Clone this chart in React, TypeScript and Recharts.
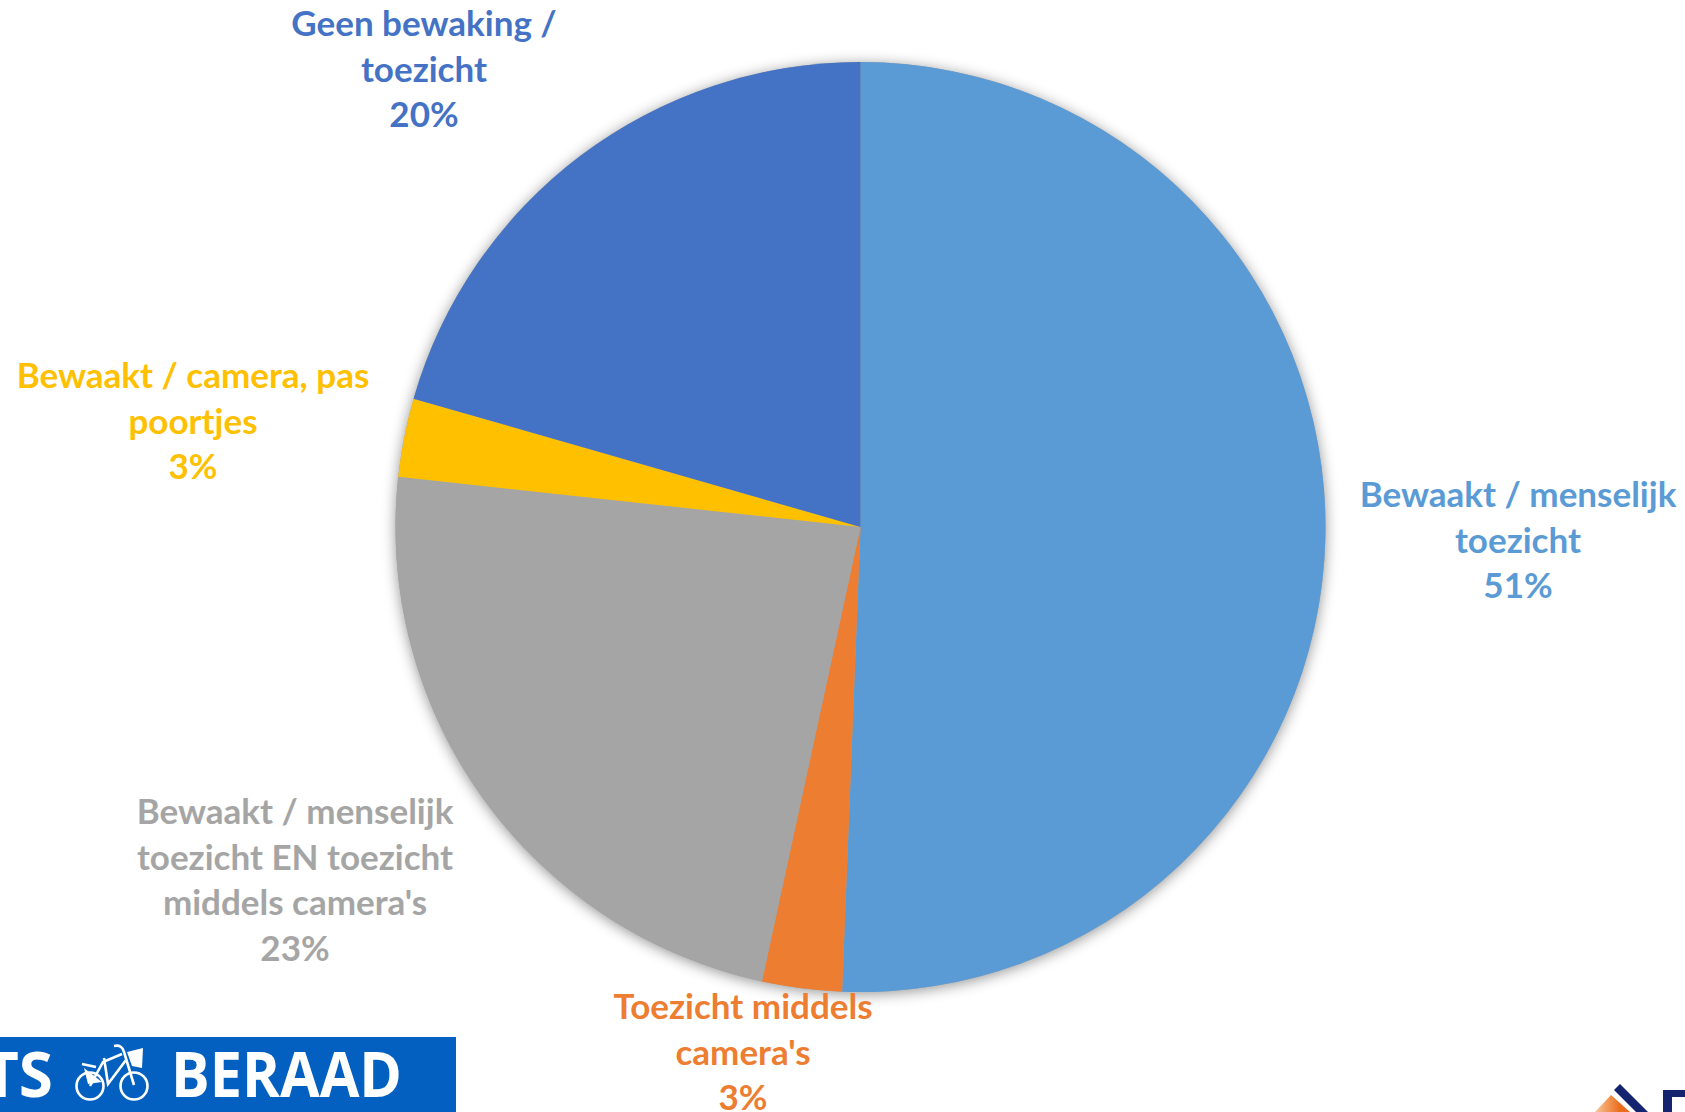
import React from "react";
import { PieChart, Pie, Cell } from "recharts";

const categories = [
  "Bewaakt / menselijk\ntoezicht",
  "Toezicht middels\ncamera's",
  "Bewaakt / menselijk\ntoezicht EN toezicht\nmiddels camera's",
  "Bewaakt / camera, pas\npoortjes",
  "Geen bewaking /\ntoezicht",
];
const values = [50.63, 2.77, 23.32, 2.73, 20.55];
const percentLabels = ["51%", "3%", "23%", "3%", "20%"];
const colors = ["#5B9BD5", "#ED7D31", "#A5A5A5", "#FFC000", "#4472C4"];

const labelCentres = [
  { x: 1518, y: 496 },
  { x: 743, y: 1008 },
  { x: 295, y: 813 },
  { x: 193, y: 377 },
  { x: 424, y: 25 },
];
const LINE = 45.6;
const FONT = "Lato, Carlito, sans-serif";

const data = categories.map((name, i) => ({ name, value: values[i] }));
const total = [{ name: "Totaal", value: values.reduce((a, b) => a + b, 0) }];

function renderLabel(props: any) {
  const i = props.index;
  const pos = labelCentres[i];
  const lines = [...categories[i].split("\n"), percentLabels[i]];
  return (
    <text
      key={i}
      x={pos.x}
      y={pos.y + 11}
      textAnchor="middle"
      fill={colors[i]}
      fontFamily={FONT}
      fontWeight={700}
      fontSize={35}
    >
      {lines.map((l, k) => (
        <tspan key={k} x={pos.x} dy={k === 0 ? 0 : LINE}>
          {l}
        </tspan>
      ))}
    </text>
  );
}

function Logos() {
  return (
    <svg
      width={1685}
      height={1112}
      style={{ position: "absolute", left: 0, top: 0, pointerEvents: "none" }}
    >
      <defs>
        <linearGradient id="orangeGrad" x1="0" x2="1" y1="0" y2="0">
          <stop offset="0" stopColor="#F8C79A" />
          <stop offset="0.7" stopColor="#EB6E1E" />
        </linearGradient>
      </defs>
      <rect x={0} y={1037} width={456} height={75} fill="#0360C1" />
      <text x={53} y={1097} textAnchor="end" fill="#fff" fontFamily="'Open Sans', sans-serif" fontWeight={700} fontSize={62}>
        TS
      </text>
      <text x={402} y={1097} textAnchor="end" fill="#fff" fontFamily="'Open Sans', sans-serif" fontWeight={700} fontSize={62} textLength={231} lengthAdjust="spacingAndGlyphs">
        BERAAD
      </text>
      <g fill="none" stroke="#fff" strokeWidth={2.6}>
        <circle cx={90} cy={1086} r={13.5} />
        <circle cx={134} cy={1086} r={13.5} />
        <path d="M90 1086 L103 1062 L122 1054 M108 1084 L126 1060 M104 1058 L108 1084 L120 1068 M114 1046 Q122 1044 124 1052 L134 1085 M82 1064 L96 1067" />
      </g>
      <path d="M127 1052 L143 1048 L142 1068 L132 1066 Z" fill="#fff" />
      <path d="M84 1068 L102 1082 L88 1084 Z" fill="#fff" />
      <path d="M1595 1112 L1611 1095 L1630 1112 Z" fill="url(#orangeGrad)" />
      <path d="M1620 1084 L1614 1090 L1636 1112 L1648 1112 Z" fill="#14246E" />
      <path d="M1663 1090 H1685 V1097 H1672 V1112 H1663 Z" fill="#14246E" />
    </svg>
  );
}

export default function App() {
  return (
    <div style={{ position: "absolute", left: 0, top: 0, width: 1685, height: 1112, background: "#fff", overflow: "hidden" }}>
      <style>{`.pie-shadow .recharts-pie-sector{filter:drop-shadow(0 2px 7px rgba(0,0,0,0.42));}`}</style>
      <Logos />
      <div style={{ position: "absolute", left: 0, top: 0 }}>
        <PieChart width={1685} height={1112} margin={{ top: 0, right: 0, bottom: 0, left: 0 }}>
          <Pie
            className="pie-shadow"
            data={total}
            dataKey="value"
            nameKey="name"
            cx={860.5}
            cy={527}
            outerRadius={465}
            startAngle={90}
            endAngle={-270}
            fill="#A5A5A5"
            stroke="none"
            isAnimationActive={false}
            label={false}
            labelLine={false}
          />
          <Pie
            data={data}
            dataKey="value"
            nameKey="name"
            cx={860.5}
            cy={527}
            outerRadius={465}
            innerRadius={0}
            startAngle={90}
            endAngle={-270}
            stroke="none"
            isAnimationActive={false}
            label={renderLabel}
            labelLine={false}
          >
            {data.map((d, i) => (
              <Cell key={d.name} fill={colors[i]} stroke="none" />
            ))}
          </Pie>
        </PieChart>
      </div>
    </div>
  );
}
